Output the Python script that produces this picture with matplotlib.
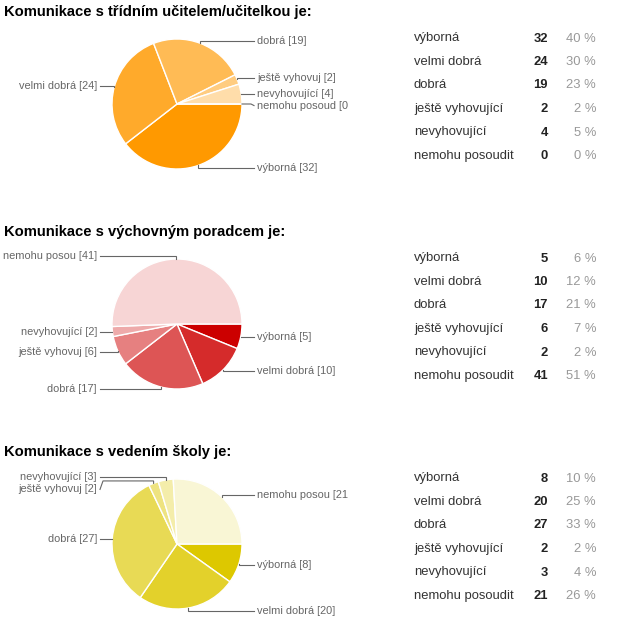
import numpy as np
import matplotlib
matplotlib.use('Agg')
import matplotlib.pyplot as plt
from matplotlib.colors import to_rgb

plt.rcParams['font.family'] = ['Liberation Sans', 'DejaVu Sans']

titles = ['Komunikace s třídním učitelem/učitelkou je:',
          'Komunikace s výchovným poradcem je:',
          'Komunikace s vedením školy je:']
answers = ['výborná', 'velmi dobrá', 'dobrá', 'ještě vyhovující',
           'nevyhovující', 'nemohu posoudit']
# shortened names as they stand next to the pies
pie_names_1 = ['výborná', 'velmi dobrá', 'dobrá', 'ještě vyhovuj',
               'nevyhovující', 'nemohu posoud']
pie_names_2 = ['výborná', 'velmi dobrá', 'dobrá', 'ještě vyhovuj',
               'nevyhovující', 'nemohu posou']
pie_names_3 = ['výborná', 'velmi dobrá', 'dobrá', 'ještě vyhovuj',
               'nevyhovující', 'nemohu posou']
ucitel = [32, 24, 19, 2, 4, 0]
poradce = [5, 10, 17, 6, 2, 41]
vedeni = [8, 20, 27, 2, 3, 21]
base_colors = ['#ff9900', '#cc0000', '#ddc800']

W, H = 617, 625
fig = plt.figure(figsize=(W / 100, H / 100), dpi=100)
fig.patch.set_facecolor('white')

# pies live in an axes that stops at x=348 so long labels get cut like in the original
PIE_W = 348
ax_p = fig.add_axes([0, 0, PIE_W / W, 1])
ax_t = fig.add_axes([0, 0, 1, 1])
ax_t.set_xlim(0, W)
ax_t.set_ylim(H, 0)
ax_t.axis('off')
ax_t.patch.set_alpha(0)

line_col = '#666666'
R = 65


def shades(base, n=6):
    c = np.array(to_rgb(base))
    return [tuple(c + (1 - c) * k / n) for k in range(n)]


def draw_pie(k, counts, names, base):
    cx, cy = 177, 104 + 220 * k
    cols = shades(base)
    ax_p.pie(counts, center=(cx, cy), radius=R, startangle=0, counterclock=True,
             colors=cols, frame=True,
             wedgeprops=dict(edgecolor='white', linewidth=1.0))

    total = float(sum(counts))
    ends = np.cumsum(counts) / total * 360
    starts = ends - np.array(counts) / total * 360
    mids = np.radians((starts + ends) / 2)

    labels = []
    for i, a in enumerate(mids):
        ex, ey = cx + R * np.cos(a), cy + R * np.sin(a)
        yi = cy + 1.04 * R * np.sin(a)
        side = 1 if np.cos(a) >= 0 else -1
        labels.append(dict(i=i, ex=ex, ey=ey, yi=yi, ly=yi, side=side))

    for side in (1, -1):
        grp = sorted([l for l in labels if l['side'] == side], key=lambda l: l['yi'])
        prev = None
        for l in grp:
            if prev is not None and l['ly'] < prev + 12:
                l['ly'] = prev + 12
            prev = l['ly']

    for l in labels:
        s = l['side']
        xs = [l['ex'], l['ex'], cx + s * 74, cx + s * 77]
        ys = [l['ey'], l['yi'], l['yi'], l['ly']]
        if abs(l['ly'] - l['yi']) < 0.5:
            xs, ys = xs[:2] + [cx + s * 77], ys[:2] + [l['yi']]
        ax_p.plot(xs, ys, color=line_col, lw=0.8, solid_joinstyle='miter')
        ax_p.text(cx + s * 80, l['ly'], f"{names[l['i']]} [{counts[l['i']]}]",
                  ha='left' if s > 0 else 'right', va='center', fontsize=7.9,
                  color='#666666', clip_on=True)


def draw_table(k, counts):
    total = float(sum(counts))
    for j, (name, n) in enumerate(zip(answers, counts)):
        y = 38.5 + 23.5 * j + 220 * k
        ax_t.text(414, y, name, ha='left', va='center', fontsize=9.4, color='#333333')
        ax_t.text(548, y, str(n), ha='right', va='center', fontsize=9.4,
                  color='#222222', fontweight='bold')
        ax_t.text(596, y, f"{round(n / total * 100)} %", ha='right', va='center',
                  fontsize=9.4, color='#999999')


for k, (counts, names) in enumerate([(ucitel, pie_names_1), (poradce, pie_names_2),
                                     (vedeni, pie_names_3)]):
    ax_t.text(4, 16 + 220 * k, titles[k], ha='left', va='baseline', fontsize=10.6,
              fontweight='bold', color='black')
    draw_pie(k, counts, names, base_colors[k])
    draw_table(k, counts)

ax_p.set_aspect('auto')
ax_p.set_xlim(0, PIE_W)
ax_p.set_ylim(H, 0)
ax_p.axis('off')

fig.savefig('out.png', dpi=100, facecolor='white')
